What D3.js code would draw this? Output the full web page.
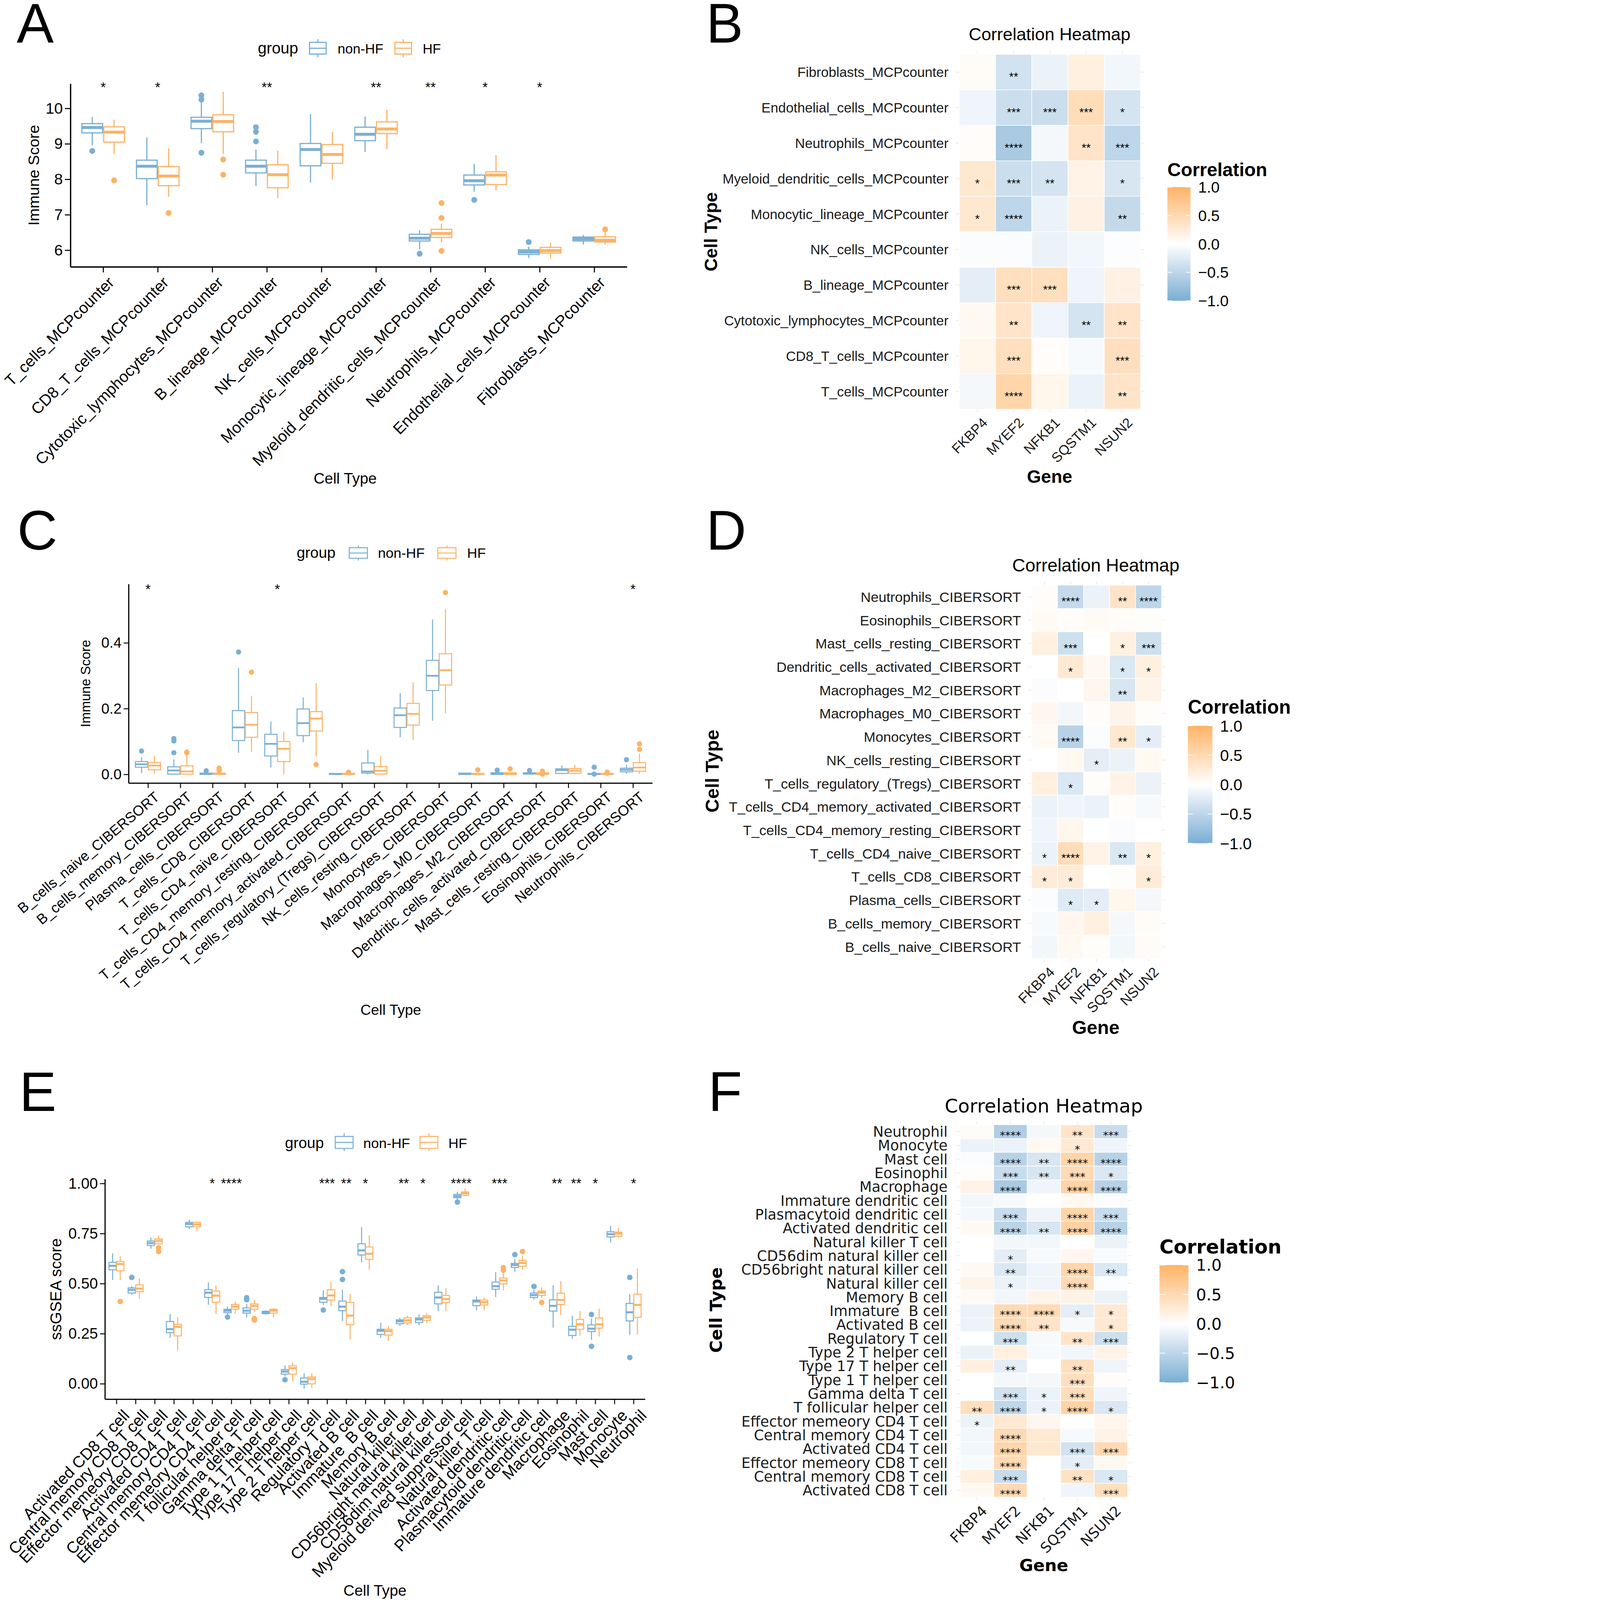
<!DOCTYPE html>
<html>
<head>
<meta charset="utf-8">
<script src="https://cdn.jsdelivr.net/npm/d3@7"></script>
<style>html,body{margin:0;padding:0;background:#fff;overflow:hidden}svg{display:block}</style>
</head>
<body>
<svg id="fig" viewBox="0 0 4421 5474" preserveAspectRatio="xMinYMin meet"></svg>
<script>
// ---------- data ----------
var groups = ["non-HF", "HF"];
var genes = ["FKBP4", "MYEF2", "NFKB1", "SQSTM1", "NSUN2"];

// panel A: MCPcounter, box stats [lower whisker, q1, median, q3, upper whisker]
var mcpCells = ["T_cells_MCPcounter","CD8_T_cells_MCPcounter","Cytotoxic_lymphocytes_MCPcounter","B_lineage_MCPcounter","NK_cells_MCPcounter","Monocytic_lineage_MCPcounter","Myeloid_dendritic_cells_MCPcounter","Neutrophils_MCPcounter","Endothelial_cells_MCPcounter","Fibroblasts_MCPcounter"];
var mcpNonHF = [[8.96,9.31,9.46,9.57,9.76],[7.27,8.02,8.37,8.54,9.18],[9.02,9.43,9.64,9.75,10.18],[7.81,8.18,8.37,8.54,8.84],[7.91,8.38,8.84,9.01,9.84],[8.77,9.09,9.27,9.47,9.77],[6.02,6.26,6.34,6.45,6.56],[7.65,7.84,7.96,8.12,8.43],[5.78,5.88,5.95,6.01,6.10],[6.16,6.26,6.32,6.37,6.43]];
var mcpNonHFOut = [[8.80],[],[10.37,10.25,8.75],[9.47,9.34,9.07],[],[],[5.90],[7.42],[6.23],[]];
var mcpHF = [[8.71,9.05,9.33,9.48,9.68],[7.51,7.82,8.09,8.36,8.87],[8.72,9.34,9.63,9.82,10.47],[7.47,7.76,8.13,8.41,8.81],[7.99,8.45,8.70,8.98,9.33],[8.85,9.29,9.42,9.62,9.96],[6.21,6.36,6.47,6.59,6.75],[7.69,7.85,8.12,8.21,8.68],[5.76,5.92,5.99,6.08,6.21],[6.16,6.23,6.28,6.38,6.53]];
var mcpHFOut = [[7.97],[7.05],[8.56,8.13],[],[],[],[7.33,6.91,5.98],[],[],[6.59]];
var mcpSig = ["*","*","","**","","**","**","*","*",""];

// panel B: correlation, rows top to bottom
var mcpRows = mcpCells.slice().reverse();
var mcpCorr = [[0.05,-0.35,-0.15,0.2,-0.1],[-0.12,-0.4,-0.4,0.45,-0.33],[0.04,-0.65,-0.08,0.35,-0.5],[0.3,-0.4,-0.33,0.15,-0.3],[0.3,-0.5,-0.15,0.18,-0.45],[-0.03,-0.03,-0.15,-0.1,-0.02],[-0.2,0.42,0.42,-0.12,0.18],[0.08,0.35,-0.12,-0.33,0.35],[0.12,0.42,0.04,-0.06,0.42],[-0.08,0.55,0.12,-0.15,0.35]];
var mcpCorrSig = [["","**","","",""],["","***","***","***","*"],["","****","","**","***"],["*","***","**","","*"],["*","****","","","**"],["","","","",""],["","***","***","",""],["","**","","**","**"],["","***","","","***"],["","****","","","**"]];

// panel C: CIBERSORT
var cibCells = ["B_cells_naive_CIBERSORT","B_cells_memory_CIBERSORT","Plasma_cells_CIBERSORT","T_cells_CD8_CIBERSORT","T_cells_CD4_naive_CIBERSORT","T_cells_CD4_memory_resting_CIBERSORT","T_cells_CD4_memory_activated_CIBERSORT","T_cells_regulatory_(Tregs)_CIBERSORT","NK_cells_resting_CIBERSORT","Monocytes_CIBERSORT","Macrophages_M0_CIBERSORT","Macrophages_M2_CIBERSORT","Dendritic_cells_activated_CIBERSORT","Mast_cells_resting_CIBERSORT","Eosinophils_CIBERSORT","Neutrophils_CIBERSORT"];
var cibNonHF = [[0.004,0.022,0.031,0.039,0.052],[0,0.001,0.012,0.023,0.046],[0,0,0.002,0.004,0.009],[0.066,0.103,0.143,0.194,0.323],[0.021,0.056,0.093,0.122,0.161],[0.098,0.118,0.156,0.199,0.234],[0,0,0.001,0.003,0.003],[0,0.004,0.009,0.035,0.075],[0.113,0.143,0.180,0.202,0.247],[0.163,0.255,0.300,0.347,0.471],[0,0,0.002,0.004,0.005],[0,0,0.002,0.005,0.005],[0,0.001,0.003,0.005,0.006],[0.001,0.003,0.013,0.017,0.027],[0,0,0.001,0.003,0.004],[0.002,0.008,0.014,0.019,0.030]];
var cibNonHFOut = [[0.071],[0.066,0.102,0.109],[0.011],[0.372],[],[],[],[],[],[],[],[0.013],[0.012],[],[0.022,0.001],[0.045]];
var cibHF = [[0.002,0.014,0.027,0.036,0.057],[0,0.001,0.009,0.026,0.058],[0,0,0.002,0.004,0.005],[0.068,0.113,0.151,0.188,0.239],[0,0.039,0.078,0.100,0.130],[0.055,0.132,0.170,0.191,0.278],[0,0,0.001,0.003,0.003],[0,0.001,0.011,0.024,0.057],[0.105,0.150,0.184,0.216,0.280],[0.186,0.272,0.317,0.367,0.502],[0,0,0.001,0.003,0.004],[0,0,0.002,0.005,0.005],[0,0,0.002,0.005,0.006],[0.001,0.003,0.011,0.018,0.029],[0,0,0.001,0.003,0.004],[0.002,0.010,0.021,0.036,0.063]];
var cibHFOut = [[],[0.068,0.066],[0.019,0.015,0.012],[0.311],[],[0.030],[0.007],[],[],[0.553],[0.014],[0.017],[0.010,0.001],[],[0.007,0.004],[0.076,0.093]];
var cibSig = ["*","","","","*","","","","","","","","","","","*"];

// panel D
var cibRows = cibCells.slice().reverse();
var cibCorr = [[0.04,-0.45,-0.15,0.35,-0.5],[0.07,0.04,0.07,0.04,0.03],[0.2,-0.38,0,0.2,-0.38],[0,0.28,0.08,-0.28,0.2],[-0.04,0,0.1,-0.3,0.14],[0.1,-0.1,0.03,0.14,0.03],[0.07,-0.55,-0.04,0.3,-0.2],[0,0.08,-0.2,-0.15,0.08],[0.2,-0.28,0.04,0.15,-0.15],[-0.15,-0.12,-0.15,0.04,-0.06],[-0.12,0.12,0,-0.04,0],[-0.15,0.45,0.15,-0.28,0.2],[0.25,0.25,0,0.03,0.25],[-0.03,-0.25,-0.2,0.12,-0.08],[-0.06,0.1,0.2,-0.08,0.05],[-0.1,0.08,0.03,-0.1,0.05]];
var cibCorrSig = [["","****","","**","****"],["","","","",""],["","***","","*","***"],["","*","","*","*"],["","","","**",""],["","","","",""],["","****","","**","*"],["","","*","",""],["","*","","",""],["","","","",""],["","","","",""],["*","****","","**","*"],["*","*","","","*"],["","*","*","",""],["","","","",""],["","","","",""]];

// panel E: ssGSEA
var ssCells = ["Activated CD8 T cell","Central memory CD8 T cell","Effector memeory CD8 T cell","Activated CD4 T cell","Central memory CD4 T cell","Effector memeory CD4 T cell","T follicular helper cell","Gamma delta T cell","Type 1 T helper cell","Type 17 T helper cell","Type 2 T helper cell","Regulatory T cell","Activated B cell","Immature  B cell","Memory B cell","Natural killer cell","CD56bright natural killer cell","CD56dim natural killer cell","Myeloid derived suppressor cell","Natural killer T cell","Activated dendritic cell","Plasmacytoid dendritic cell","Immature dendritic cell","Macrophage","Eosinophil","Mast cell","Monocyte","Neutrophil"];
var ssNonHF = [[0.518,0.569,0.589,0.606,0.652],[0.445,0.453,0.469,0.479,0.487],[0.674,0.691,0.703,0.713,0.730],[0.229,0.255,0.273,0.311,0.348],[0.772,0.784,0.798,0.806,0.820],[0.394,0.431,0.455,0.470,0.506],[0.346,0.355,0.365,0.372,0.385],[0.331,0.353,0.365,0.379,0.399],[0.345,0.350,0.357,0.362,0.367],[0.037,0.048,0.061,0.071,0.092],[-0.024,-0.002,0.010,0.029,0.051],[0.394,0.407,0.424,0.431,0.467],[0.314,0.365,0.385,0.413,0.470],[0.606,0.643,0.666,0.699,0.781],[0.229,0.246,0.265,0.272,0.304],[0.289,0.300,0.312,0.319,0.329],[0.292,0.306,0.321,0.329,0.346],[0.363,0.399,0.431,0.457,0.491],[0.917,0.929,0.937,0.946,0.959],[0.367,0.390,0.411,0.418,0.435],[0.433,0.472,0.487,0.508,0.557],[0.559,0.581,0.593,0.601,0.623],[0.421,0.431,0.443,0.453,0.470],[0.280,0.363,0.389,0.419,0.492],[0.224,0.241,0.270,0.287,0.340],[0.219,0.261,0.275,0.294,0.326],[0.705,0.733,0.747,0.759,0.789],[0.244,0.314,0.357,0.401,0.448]];
var ssNonHFOut = [[],[0.531],[],[],[],[],[0.333],[0.43,0.42],[],[0.020],[],[0.368],[0.560,0.521],[],[],[],[],[],[0.907],[],[],[0.645],[0.486],[],[],[0.346,0.187],[],[0.531,0.131]];
var ssHF = [[0.518,0.564,0.598,0.611,0.637],[0.424,0.460,0.475,0.494,0.526],[0.696,0.699,0.713,0.723,0.740],[0.165,0.239,0.284,0.297,0.333],[0.764,0.784,0.796,0.806,0.810],[0.348,0.407,0.440,0.463,0.491],[0.350,0.372,0.385,0.396,0.411],[0.360,0.372,0.389,0.399,0.419],[0.333,0.353,0.365,0.372,0.379],[0.012,0.048,0.078,0.090,0.107],[-0.022,0,0.024,0.034,0.053],[0.389,0.418,0.441,0.469,0.508],[0.221,0.295,0.340,0.406,0.450],[0.569,0.621,0.649,0.683,0.740],[0.214,0.243,0.263,0.272,0.289],[0.292,0.304,0.317,0.329,0.340],[0.302,0.317,0.331,0.340,0.353],[0.363,0.406,0.423,0.441,0.479],[0.937,0.941,0.951,0.958,0.975],[0.367,0.394,0.407,0.418,0.431],[0.467,0.499,0.516,0.528,0.569],[0.569,0.587,0.603,0.616,0.640],[0.428,0.441,0.455,0.463,0.482],[0.343,0.396,0.419,0.452,0.513],[0.241,0.272,0.297,0.321,0.363],[0.236,0.278,0.297,0.329,0.375],[0.728,0.737,0.750,0.757,0.778],[0.246,0.331,0.394,0.447,0.576]];
var ssHFOut = [[0.411],[],[0.679,0.660],[],[],[],[],[0.326,0.318],[],[],[],[],[],[],[],[],[],[],[],[],[0.580,0.567],[0.660],[0.406],[],[],[],[],[]];
var ssSig = ["","","","","","*","****","","","","","***","**","*","","**","*","","****","","***","","","**","**","*","","*"];

// panel F
var ssRows = ["Neutrophil","Monocyte","Mast cell","Eosinophil","Macrophage","Immature dendritic cell","Plasmacytoid dendritic cell","Activated dendritic cell","Natural killer T cell","CD56dim natural killer cell","CD56bright natural killer cell","Natural killer cell","Memory B cell","Immature  B cell","Activated B cell","Regulatory T cell","Type 2 T helper cell","Type 17 T helper cell","Type 1 T helper cell","Gamma delta T cell","T follicular helper cell","Effector memeory CD4 T cell","Central memory CD4 T cell","Activated CD4 T cell","Effector memeory CD8 T cell","Central memory CD8 T cell","Activated CD8 T cell"];
var ssCorr = [[0.05,-0.6,-0.08,0.35,-0.42],[-0.15,-0.15,0.08,0.28,-0.12],[-0.03,-0.55,-0.3,0.55,-0.55],[0.03,-0.42,-0.3,0.48,-0.28],[0.15,-0.65,-0.12,0.58,-0.55],[-0.1,-0.06,0,0.08,-0.04],[-0.08,-0.42,-0.12,0.55,-0.42],[0.08,-0.52,-0.3,0.6,-0.55],[0,-0.1,-0.1,0,-0.15],[0,-0.2,-0.06,0.1,-0.05],[0.08,-0.28,-0.12,0.55,-0.28],[0.14,-0.15,-0.12,0.48,-0.02],[0.06,-0.1,0.14,0.15,-0.15],[-0.15,0.48,0.48,-0.2,0.28],[-0.14,0.48,0.35,-0.06,0.28],[0,-0.38,-0.06,0.35,-0.38],[-0.15,0.2,-0.06,-0.1,0.15],[0.2,-0.2,0,0.42,-0.12],[0,-0.08,-0.08,0.42,0.04],[0,-0.35,-0.15,0.45,-0.12],[0.42,-0.48,-0.15,0.58,-0.28],[-0.15,0.28,0.1,0,0.12],[-0.1,0.48,0.28,-0.06,0.15],[-0.1,0.55,0.3,-0.35,0.48],[-0.06,0.48,0,-0.2,0.08],[0.2,-0.42,0,0.38,-0.28],[0.08,0.48,0,-0.12,0.42]];
var ssCorrSig = [["","****","","**","***"],["","","","*",""],["","****","**","****","****"],["","***","**","***","*"],["","****","","****","****"],["","","","",""],["","***","","****","***"],["","****","**","****","****"],["","","","",""],["","*","","",""],["","**","","****","**"],["","*","","****",""],["","","","",""],["","****","****","*","*"],["","****","**","","*"],["","***","","**","***"],["","","","",""],["","**","","**",""],["","","","***",""],["","***","*","***",""],["**","****","*","****","*"],["*","","","",""],["","****","","",""],["","****","","***","***"],["","****","","*",""],["","***","","**","*"],["","****","","","***"]];

// ---------- drawing ----------
var svg = d3.select("#fig")
    .style("width", "100vw").style("height", "100vh");
svg.append("rect").attr("width", 4421).attr("height", 5474).attr("fill", "#fff");
var blue = "#7BAFD4", orange = "#FDB366";
var sans = "'Liberation Sans', Arial, sans-serif";
var dejavu = "'DejaVu Sans', sans-serif";

function letter(t, x, y){
    svg.append("text").text(t).attr("x", x).attr("y", y)
        .attr("font-family", sans).attr("font-size", 190).attr("fill", "#000");
}
letter("A", 57, 146); letter("B", 2416, 146);
letter("C", 59, 1880); letter("D", 2416, 1880);
letter("E", 66, 3801); letter("F", 2423, 3801);

function keyGlyph(g, x, w, y0, y1, b0, b1, col, sw){
    g.append("line").attr("x1", x + w/2).attr("x2", x + w/2).attr("y1", y0).attr("y2", y1)
        .attr("stroke", col).attr("stroke-width", sw);
    g.append("rect").attr("x", x).attr("y", b0).attr("width", w).attr("height", b1 - b0)
        .attr("fill", "#fff").attr("stroke", col).attr("stroke-width", sw);
    g.append("line").attr("x1", x).attr("x2", x + w).attr("y1", (b0 + b1)/2).attr("y2", (b0 + b1)/2)
        .attr("stroke", col).attr("stroke-width", sw);
}

function boxPanel(c){
    var g = svg.append("g");
    var x = d3.scalePoint().domain(c.cells).range([c.left, c.right]).padding(0.6);
    var y = d3.scaleLinear().domain(c.yDomain).range([c.bottom, c.top]);
    var step = x.step(), bw = step * 0.38;
    var sets = [[c.nonHF, c.nonHFOut, blue, -1], [c.hf, c.hfOut, orange, 1]];
    sets.forEach(function(s){
        var rows = s[0].map(function(d, i){ return {st: d, out: s[1][i], cx: x(c.cells[i]) + s[3] * step * 0.2}; });
        var bg = g.append("g").selectAll("g").data(rows).join("g");
        bg.append("line").attr("x1", d => d.cx).attr("x2", d => d.cx)
            .attr("y1", d => y(d.st[4])).attr("y2", d => y(d.st[0]))
            .attr("stroke", s[2]).attr("stroke-width", c.sw);
        bg.append("rect").attr("x", d => d.cx - bw/2).attr("width", bw)
            .attr("y", d => y(d.st[3])).attr("height", d => Math.max(0.5, y(d.st[1]) - y(d.st[3])))
            .attr("fill", "#fff").attr("stroke", s[2]).attr("stroke-width", c.sw);
        bg.append("line").attr("x1", d => d.cx - bw/2).attr("x2", d => d.cx + bw/2)
            .attr("y1", d => y(d.st[2])).attr("y2", d => y(d.st[2]))
            .attr("stroke", s[2]).attr("stroke-width", c.mw);
        bg.selectAll("circle").data(d => d.out.map(v => ({v: v, cx: d.cx}))).join("circle")
            .attr("cx", d => d.cx).attr("cy", d => y(d.v)).attr("r", c.r).attr("fill", s[2]);
    });
    // axes
    var ya = g.append("g").attr("transform", "translate(" + c.left + ",0)")
        .call(d3.axisLeft(y).tickValues(c.ticks).tickFormat(d3.format(c.fmt)).tickSize(c.tickLen).tickSizeOuter(0).tickPadding(7));
    ya.select(".domain").attr("stroke-width", c.aw);
    ya.selectAll(".tick line").attr("stroke-width", c.aw * 0.8);
    ya.selectAll(".tick text").attr("font-family", sans).attr("font-size", c.tickFs).attr("fill", "#000");
    var xa = g.append("g").attr("transform", "translate(0," + c.bottom + ")")
        .call(d3.axisBottom(x).tickSize(c.tickLen).tickSizeOuter(0));
    xa.select(".domain").attr("stroke-width", c.aw);
    xa.selectAll(".tick line").attr("stroke-width", c.aw * 0.8);
    xa.selectAll(".tick text").remove();
    g.selectAll(".xlab").data(c.cells).join("text")
        .attr("transform", d => "translate(" + (x(d) + c.lx) + "," + (c.bottom + c.ly) + ") rotate(" + (-c.angle) + ")")
        .attr("text-anchor", "end").attr("dy", "0.7em").style("white-space", "pre")
        .attr("font-family", sans).attr("font-size", c.labFs).text(d => d);
    // significance
    g.selectAll(".sig").data(c.sig).join("text")
        .attr("x", (d, i) => x(c.cells[i])).attr("y", c.sigY).attr("text-anchor", "middle")
        .attr("font-family", sans).attr("font-size", 46).text(d => d);
    // titles
    g.append("text").attr("transform", "translate(" + c.ytx + "," + ((c.top + c.bottom)/2) + ") rotate(-90)")
        .attr("text-anchor", "middle").attr("dy", "0.35em").attr("font-family", sans)
        .attr("font-size", c.ytFs).text(c.yTitle);
    g.append("text").attr("x", c.xtx).attr("y", c.xty).attr("text-anchor", "middle")
        .attr("font-family", sans).attr("font-size", c.xtFs).text("Cell Type");
    // legend
    var L = c.leg;
    g.append("text").attr("x", L.gx).attr("y", L.by).attr("font-family", sans).attr("font-size", L.gfs).text("group");
    [blue, orange].forEach(function(col, i){
        keyGlyph(g, L.kx[i], L.kw, L.k0, L.k1, L.b0, L.b1, col, c.sw);
        g.append("text").attr("x", L.tx[i]).attr("y", L.by).attr("font-family", sans)
            .attr("font-size", L.fs).text(groups[i]);
    });
}

boxPanel({cells: mcpCells, nonHF: mcpNonHF, nonHFOut: mcpNonHFOut, hf: mcpHF, hfOut: mcpHFOut, sig: mcpSig,
    left: 241, right: 2145, top: 286, bottom: 913, yDomain: [5.53, 10.70], ticks: [6,7,8,9,10], fmt: "d",
    sw: 4, mw: 10, r: 10, aw: 4.5, tickLen: 19, tickFs: 53, labFs: 54, angle: 45, lx: 14, ly: 30, sigY: 314,
    yTitle: "Immune Score", ytx: 115, ytFs: 53, xtx: 1181, xty: 1655, xtFs: 52,
    leg: {gx: 882, gfs: 54, by: 183, fs: 47, kx: [1059, 1351], kw: 57, k0: 134, k1: 196, b0: 145, b1: 185, tx: [1155, 1446]}});

boxPanel({cells: cibCells, nonHF: cibNonHF, nonHFOut: cibNonHFOut, hf: cibHF, hfOut: cibHFOut, sig: cibSig,
    left: 440, right: 2232, top: 1998, bottom: 2679, yDomain: [-0.0262, 0.579], ticks: [0, 0.2, 0.4], fmt: ".1f",
    sw: 3.5, mw: 6, r: 9, aw: 4, tickLen: 17, tickFs: 50, labFs: 49, angle: 40, lx: 20, ly: 27, sigY: 2031,
    yTitle: "Immune Score", ytx: 293, ytFs: 46, xtx: 1337, xty: 3472, xtFs: 50,
    leg: {gx: 1015, gfs: 52, by: 1908, fs: 48, kx: [1195, 1498], kw: 62, k0: 1866, k1: 1918, b0: 1874, b1: 1910, tx: [1293, 1598]}});

boxPanel({cells: ssCells, nonHF: ssNonHF, nonHFOut: ssNonHFOut, hf: ssHF, hfOut: ssHFOut, sig: ssSig,
    left: 359, right: 2207, top: 4034, bottom: 4787, yDomain: [-0.077, 1.022], ticks: [0, 0.25, 0.5, 0.75, 1], fmt: ".2f",
    sw: 3.5, mw: 7, r: 9.5, aw: 4, tickLen: 17, tickFs: 52, labFs: 55, angle: 46, lx: 20, ly: 32, sigY: 4064,
    yTitle: "ssGSEA score", ytx: 191, ytFs: 54, xtx: 1283, xty: 5459, xtFs: 52,
    leg: {gx: 975, gfs: 52, by: 3928, fs: 48, kx: [1147, 1437], kw: 61, k0: 3877, k1: 3938, b0: 3888, b1: 3929, tx: [1243, 1534]}});

// ---------- heatmaps ----------
var corrColor = d3.scaleLinear().domain([-1, 0, 1]).range(["#78AED3", "#ffffff", "#FDB366"]).interpolate(d3.interpolateLab);
var gradId = 0;

function heatPanel(c){
    var g = svg.append("g");
    var x = d3.scaleBand().domain(genes).range([c.x0, c.x1]);
    var y = d3.scaleBand().domain(c.rows).range([c.y0, c.y1]);
    var ext = 12;
    // minimal theme grid
    g.selectAll(".gv").data(genes).join("line")
        .attr("x1", d => x(d) + x.bandwidth()/2).attr("x2", d => x(d) + x.bandwidth()/2)
        .attr("y1", c.y0 - ext).attr("y2", c.y1 + ext).attr("stroke", "#EBEBEB").attr("stroke-width", 3);
    g.selectAll(".gh").data(c.rows).join("line")
        .attr("y1", d => y(d) + y.bandwidth()/2).attr("y2", d => y(d) + y.bandwidth()/2)
        .attr("x1", c.x0 - ext).attr("x2", c.x1 + ext).attr("stroke", "#EBEBEB").attr("stroke-width", 3);
    var cells = [];
    c.rows.forEach(function(r, i){
        genes.forEach(function(gn, j){ cells.push({r: r, g: gn, v: c.vals[i][j], s: c.sig[i][j]}); });
    });
    g.selectAll(".tile").data(cells).join("rect")
        .attr("x", d => x(d.g)).attr("y", d => y(d.r)).attr("width", x.bandwidth()).attr("height", y.bandwidth())
        .attr("fill", d => corrColor(d.v)).attr("stroke", "#fff").attr("stroke-width", 2);
    g.selectAll(".star").data(cells).join("text")
        .attr("x", d => x(d.g) + x.bandwidth()/2).attr("y", d => y(d.r) + y.bandwidth()/2)
        .attr("dy", "0.72em").attr("text-anchor", "middle")
        .attr("font-family", c.font).attr("font-size", c.starFs).text(d => d.s);
    g.selectAll(".rlab").data(c.rows).join("text")
        .attr("x", c.labX).attr("y", d => y(d) + y.bandwidth()/2).attr("dy", "0.36em")
        .attr("text-anchor", "end").style("white-space", "pre")
        .attr("font-family", c.font).attr("font-size", c.labFs).attr("fill", "#1a1a1a").text(d => d);
    g.selectAll(".clab").data(genes).join("text")
        .attr("transform", d => "translate(" + (x(d) + x.bandwidth()/2 + 14) + "," + (c.y1 + 26) + ") rotate(-45)")
        .attr("text-anchor", "end").attr("dy", "0.7em")
        .attr("font-family", c.font).attr("font-size", c.labFs).attr("fill", "#1a1a1a").text(d => d);
    g.append("text").attr("x", c.tx).attr("y", c.ty).attr("text-anchor", "middle")
        .attr("font-family", c.font).attr("font-size", c.titleFs).text("Correlation Heatmap");
    g.append("text").attr("x", c.tx).attr("y", c.gy).attr("text-anchor", "middle")
        .attr("font-family", c.font).attr("font-weight", "bold").attr("font-size", c.axFs).text("Gene");
    g.append("text").attr("transform", "translate(" + c.cx + "," + c.cy + ") rotate(-90)")
        .attr("text-anchor", "middle").attr("dy", "0.35em")
        .attr("font-family", c.font).attr("font-weight", "bold").attr("font-size", c.axFs).text("Cell Type");
    // colour bar
    var id = "grad" + (gradId++);
    var lg = svg.append("defs").append("linearGradient").attr("id", id)
        .attr("x1", 0).attr("y1", 1).attr("x2", 0).attr("y2", 0);
    d3.range(0, 1.0001, 0.05).forEach(function(t){
        lg.append("stop").attr("offset", t).attr("stop-color", corrColor(-1 + 2 * t));
    });
    var ly = d3.scaleLinear().domain([-1, 1]).range([c.lb1, c.lb0]);
    g.append("rect").attr("x", c.lx0).attr("y", c.lb0).attr("width", c.lx1 - c.lx0).attr("height", c.lb1 - c.lb0)
        .attr("fill", "url(#" + id + ")");
    var lt = [-1, -0.5, 0, 0.5, 1];
    var bwid = c.lx1 - c.lx0;
    g.selectAll(".lt1").data(lt).join("line").attr("x1", c.lx0).attr("x2", c.lx0 + bwid * 0.2)
        .attr("y1", d => ly(d)).attr("y2", d => ly(d)).attr("stroke", "#fff").attr("stroke-width", 2.5);
    g.selectAll(".lt2").data(lt).join("line").attr("x1", c.lx1 - bwid * 0.2).attr("x2", c.lx1)
        .attr("y1", d => ly(d)).attr("y2", d => ly(d)).attr("stroke", "#fff").attr("stroke-width", 2.5);
    g.selectAll(".ltl").data(lt).join("text").attr("x", c.lx1 + 26).attr("y", d => ly(d)).attr("dy", "0.36em")
        .attr("font-family", c.font).attr("font-size", c.legFs).text(d => d3.format(".1f")(d));
    g.append("text").attr("x", c.lx0).attr("y", c.lty).attr("font-family", c.font)
        .attr("font-weight", "bold").attr("font-size", c.legTitleFs).text("Correlation");
}

heatPanel({rows: mcpRows, vals: mcpCorr, sig: mcpCorrSig, font: sans,
    x0: 3282, x1: 3902, y0: 186, y1: 1400, labX: 3245, labFs: 47, starFs: 40,
    tx: 3591, ty: 137, titleFs: 60, gy: 1652, axFs: 62, cx: 2432, cy: 793,
    lx0: 3994, lx1: 4073, lb0: 640, lb1: 1029, legFs: 53, lty: 603, legTitleFs: 64});

heatPanel({rows: cibRows, vals: cibCorr, sig: cibCorrSig, font: sans,
    x0: 3529, x1: 3974, y0: 2002, y1: 3279, labX: 3493, labFs: 48, starFs: 40,
    tx: 3749, ty: 1955, titleFs: 62, gy: 3537, axFs: 65, cx: 2436, cy: 2638,
    lx0: 4064, lx1: 4148, lb0: 2483, lb1: 2885, legFs: 55, lty: 2442, legTitleFs: 66});

heatPanel({rows: ssRows, vals: ssCorr, sig: ssCorrSig, font: dejavu,
    x0: 3285, x1: 3858, y0: 3848, y1: 5122, labX: 3242, labFs: 49, starFs: 36,
    tx: 3571, ty: 3806, titleFs: 65, gy: 5375, axFs: 58, cx: 2449, cy: 4482,
    lx0: 3967, lx1: 4066, lb0: 4328, lb1: 4730, legFs: 55, lty: 4288, legTitleFs: 66});
</script>
</body>
</html>
